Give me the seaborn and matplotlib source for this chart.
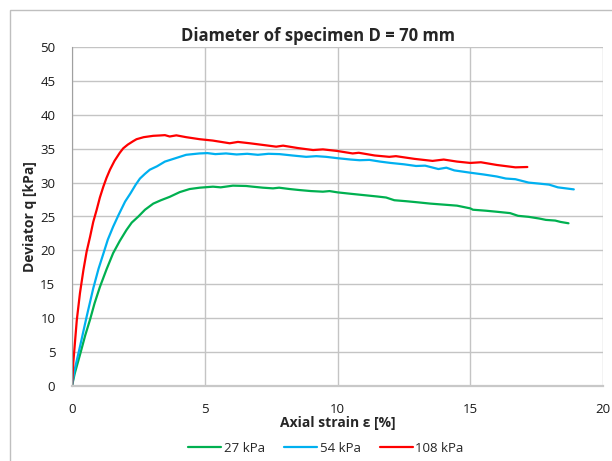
import numpy as np
import pandas as pd
import matplotlib
matplotlib.use("Agg")
import matplotlib.pyplot as plt
from matplotlib.patches import Rectangle
import seaborn as sns

# ---- data ----
x_27 = [0, 0.1, 0.3, 0.5, 0.68, 0.85, 1.05, 1.3, 1.55, 1.8, 2.05, 2.25, 2.5, 2.75, 3.06, 3.35,
        3.68, 4.06, 4.43, 4.81, 5.31, 5.6, 6.06, 6.56, 6.8, 7.19, 7.57, 7.8, 8.2, 8.57, 9.0,
        9.45, 9.7, 10.0, 10.5, 11.0, 11.5, 11.83, 12.14, 12.6, 13.0, 13.5, 14.0, 14.5, 15.0,
        15.1, 15.6, 16.0, 16.5, 16.8, 17.2, 17.6, 17.85, 18.2, 18.4, 18.7]
y_27 = [0, 1.8, 4.6, 7.5, 9.8, 12.2, 14.6, 17.2, 19.6, 21.4, 23.0, 24.1, 25.0, 26.0, 26.9, 27.4,
        27.9, 28.6, 29.05, 29.25, 29.4, 29.3, 29.55, 29.5, 29.4, 29.25, 29.15, 29.25, 29.05, 28.9, 28.75,
        28.66, 28.75, 28.56, 28.35, 28.15, 27.95, 27.8, 27.4, 27.25, 27.1, 26.9, 26.75, 26.6, 26.2,
        26.0, 25.85, 25.7, 25.5, 25.1, 24.95, 24.7, 24.5, 24.4, 24.2, 24.0]

x_54 = [0, 0.1, 0.3, 0.55, 0.8, 1.0, 1.18, 1.35, 1.55, 1.75, 2.0, 2.2, 2.4, 2.56, 2.75, 2.93,
        3.2, 3.5, 3.9, 4.3, 4.8, 5.1, 5.4, 5.8, 6.2, 6.6, 7.0, 7.4, 7.82, 8.3, 8.82, 9.2, 9.57,
        10.0, 10.5, 10.83, 11.2, 11.6, 12.0, 12.5, 12.96, 13.3, 13.8, 14.1, 14.4, 15.0, 15.5,
        16.0, 16.34, 16.7, 17.2, 17.6, 17.97, 18.3, 18.9]
y_54 = [0, 2.4, 5.8, 10.2, 14.4, 17.3, 19.5, 21.6, 23.5, 25.2, 27.2, 28.4, 29.7, 30.6, 31.3, 31.9,
        32.4, 33.1, 33.6, 34.1, 34.3, 34.35, 34.2, 34.3, 34.15, 34.25, 34.1, 34.25, 34.2, 34.0, 33.8, 33.9, 33.8,
        33.6, 33.4, 33.3, 33.35, 33.1, 32.9, 32.7, 32.45, 32.5, 32.0, 32.2, 31.8, 31.46, 31.2,
        30.9, 30.6, 30.5, 30.0, 29.85, 29.7, 29.3, 29.0]

x_108 = [0, 0.05, 0.18, 0.3, 0.43, 0.55, 0.68, 0.8, 0.93, 1.05, 1.18, 1.3, 1.43, 1.6, 1.8, 1.93,
         2.1, 2.3, 2.43, 2.7, 3.06, 3.3, 3.5, 3.68, 3.93, 4.3, 4.81, 5.3, 5.94, 6.25, 6.7, 7.3,
         7.69, 7.95, 8.5, 9.08, 9.45, 10.0, 10.57, 10.8, 11.4, 11.95, 12.2, 12.9, 13.58, 14.0,
         14.5, 15.0, 15.4, 16.0, 16.7, 17.15]
y_108 = [0, 3.5, 9.7, 13.7, 17.1, 19.8, 22.0, 24.2, 26.0, 27.8, 29.4, 30.7, 31.9, 33.2, 34.4, 35.06,
         35.6, 36.1, 36.4, 36.7, 36.9, 36.95, 37.0, 36.8, 36.97, 36.7, 36.4, 36.2, 35.8, 36.0, 35.8, 35.5,
         35.3, 35.45, 35.1, 34.8, 34.9, 34.66, 34.3, 34.4, 34.0, 33.8, 33.9, 33.5, 33.2, 33.4,
         33.1, 32.9, 33.0, 32.6, 32.25, 32.3]

series_labels = ["27 kPa", "54 kPa", "108 kPa"]
series_colors = ["#00B050", "#00B0F0", "#FF0000"]
x_ticks = [0, 5, 10, 15, 20]
y_ticks = [0, 5, 10, 15, 20, 25, 30, 35, 40, 45, 50]
title = "Diameter of specimen D = 70 mm"
xlabel = "Axial strain ε [%]"
ylabel = "Deviator q [kPa]"

df = pd.concat([
    pd.DataFrame({"strain": x_27, "q": y_27, "series": series_labels[0]}),
    pd.DataFrame({"strain": x_54, "q": y_54, "series": series_labels[1]}),
    pd.DataFrame({"strain": x_108, "q": y_108, "series": series_labels[2]}),
], ignore_index=True)

sns.set_style("white")
plt.rcParams["font.family"] = ["Open Sans", "DejaVu Sans"]

fig = plt.figure(figsize=(6.12, 4.61), dpi=100)
ax = fig.add_axes([72 / 612, 1 - 386 / 461, (603 - 72) / 612, (386 - 47) / 461])

# outer chart border
fig.patches.append(Rectangle((9.5 / 612, -0.1), 1.2, (461 - 10.5) / 461 + 0.1,
                             transform=fig.transFigure, fill=False,
                             edgecolor="#BFBFBF", linewidth=1.0, zorder=0))

sns.lineplot(data=df, x="strain", y="q", hue="series", hue_order=series_labels,
             palette=series_colors, sort=False, estimator=None, linewidth=1.6,
             ax=ax, legend=False)

ax.set_xlim(0, 20)
ax.set_ylim(0, 50)
ax.set_xticks(x_ticks)
ax.set_yticks(y_ticks)
ax.grid(True, color="#C4C4C4", linewidth=1.0)
ax.set_axisbelow(True)
for side in ["top", "right"]:
    ax.spines[side].set_visible(False)
ax.spines["left"].set_color("#A0A0A0")
ax.spines["bottom"].set_color("#C8C8C8")
ax.spines["bottom"].set_linewidth(1.6)
ax.tick_params(axis="both", which="major", length=5, width=1, color="#A0A0A0",
               labelsize=9.5, labelcolor="#1a1a1a", direction="out")
ax.tick_params(axis="y", pad=7)
ax.tick_params(axis="x", pad=7)

ax.set_xlabel(xlabel, fontsize=10, fontweight="bold", labelpad=0)
ax.set_ylabel(ylabel, fontsize=10, fontweight="bold", labelpad=2)
ax.set_title(title, fontsize=12, fontweight="bold", x=(318 - 72) / 531, pad=4)

handles = [plt.Line2D([0], [0], color=c, linewidth=1.6) for c in series_colors]
fig.legend(handles, series_labels, loc="center", bbox_to_anchor=(326 / 612, 1 - 448 / 461),
           ncol=3, frameon=False, fontsize=9.5, handlelength=2.5, handletextpad=0.2,
           columnspacing=1.45)

fig.savefig("out.png", dpi=100)
